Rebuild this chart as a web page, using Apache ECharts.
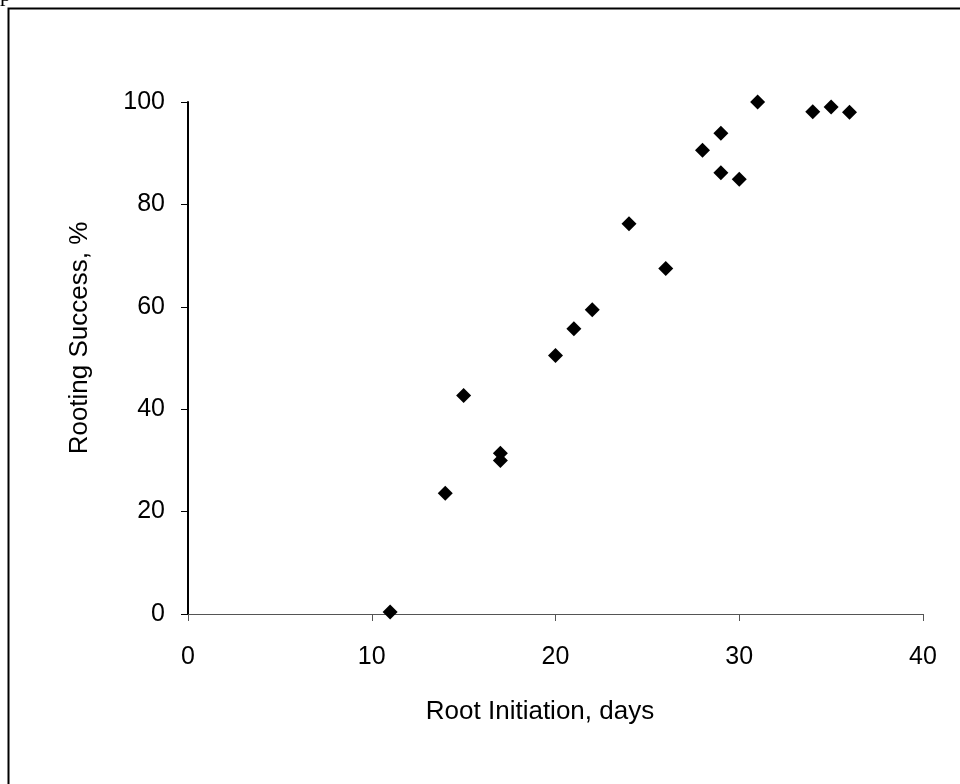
<!DOCTYPE html>
<html>
<head>
<meta charset="utf-8">
<script src="https://cdn.jsdelivr.net/npm/echarts@6/dist/echarts.min.js"></script>
<style>
html,body{margin:0;padding:0;background:#fff;}
#chart{width:960px;height:784px;}
</style>
</head>
<body>
<div id="chart"></div>
<script>
var rootDays = [11, 14, 15, 17, 17, 20, 21, 22, 24, 26, 28, 29, 29, 30, 31, 34, 35, 36];
var rootingSuccess = [0.4, 23.6, 42.7, 31.4, 30.0, 50.5, 55.7, 59.4, 76.2, 67.5, 90.6, 93.9, 86.2, 84.9, 100.0, 98.1, 99.0, 98.0];
var xTitle = 'Root Initiation, days';
var yTitle = 'Rooting Success, %';

var points = rootDays.map(function (d, i) { return [d, rootingSuccess[i]]; });
var font = 'Liberation Sans, Arial, sans-serif';

var chart = echarts.init(document.getElementById('chart'), null, {renderer: 'canvas'});
chart.setOption({
  animation: false,
  backgroundColor: '#fff',
  grid: {left: 188, right: 37, top: 102, bottom: 170, containLabel: false},
  xAxis: {
    type: 'value', min: 0, max: 40, interval: 10,
    axisLine: {show: true, onZero: false, lineStyle: {color: '#555', width: 1}},
    axisTick: {show: true, length: 7, lineStyle: {color: '#555', width: 1}},
    axisLabel: {margin: 31, color: '#000', fontSize: 25, fontFamily: font},
    splitLine: {show: false}
  },
  yAxis: {
    type: 'value', min: 0, max: 100, interval: 20,
    axisLine: {show: true, onZero: false, lineStyle: {color: '#000', width: 2}},
    axisTick: {show: true, length: 7, lineStyle: {color: '#000', width: 1}},
    axisLabel: {margin: 23, color: '#000', fontSize: 25, fontFamily: font},
    splitLine: {show: false}
  },
  series: [{
    type: 'scatter',
    data: points,
    symbol: 'diamond',
    symbolSize: 15,
    clip: false,
    itemStyle: {color: '#000', opacity: 1}
  }],
  graphic: [
    {type: 'rect', left: 6, top: 6, shape: {width: 1000, height: 1000}, style: {fill: 'none', stroke: '#000', lineWidth: 2}, z: 10},
    {type: 'text', x: 0, y: -16, style: {text: 'p', font: '22px "Liberation Serif", serif', fill: '#000'}},
    {type: 'text', x: 540, y: 712, style: {text: xTitle, font: '26px ' + font, fill: '#000', align: 'center', verticalAlign: 'middle'}},
    {type: 'text', x: 80, y: 338, rotation: Math.PI / 2, style: {text: yTitle, font: '26px ' + font, fill: '#000', align: 'center', verticalAlign: 'middle'}}
  ]
});
</script>
</body>
</html>
